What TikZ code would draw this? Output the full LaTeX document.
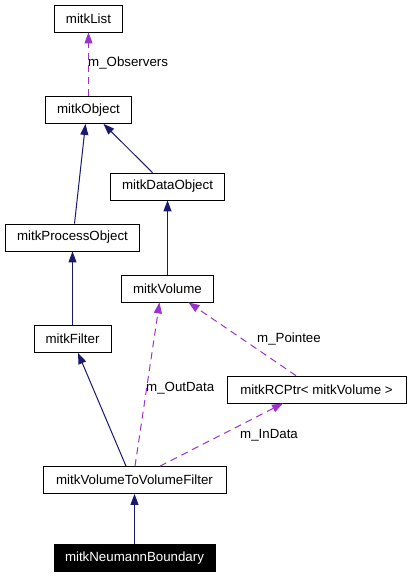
\documentclass[tikz,border=0pt]{standalone}
\usepackage{fontspec}
\setmainfont{Liberation Sans}
\usetikzlibrary{arrows.meta}

\definecolor{isablue}{HTML}{191970}
\definecolor{usespurple}{HTML}{9A32CD}

\tikzset{
	cls/.style={draw, line width=0.8pt, minimum height=27pt, inner sep=0pt, font=\fontsize{13.3}{15}\selectfont},
	isa/.style={draw=isablue, line width=1pt, -{Triangle[length=11pt,width=8pt]}, isablue},
	uses/.style={draw=usespurple, line width=1pt, dash pattern=on 7pt off 5pt, -{Triangle[length=11pt,width=8pt]}, usespurple},
	lbl/.style={font=\fontsize{13.3}{15}\selectfont, inner sep=0pt}
}

\begin{document}
\begin{tikzpicture}[x=1pt, y=-1pt]
	\useasboundingbox (0, 0) rectangle (411, 576);
	% classes
	\node[cls, minimum width=68pt] (list) at (88.5, 18.5) {mitkList};
	\node[cls, minimum width=86pt] (object) at (88.5, 110) {mitkObject};
	\node[cls, minimum width=114pt] (dataobj) at (167.5, 186.5) {mitkDataObject};
	\node[cls, minimum width=134pt] (procobj) at (72.5, 237.5) {mitkProcessObject};
	\node[cls, minimum width=92pt] (volume) at (167.5, 288.5) {mitkVolume};
	\node[cls, minimum width=77pt] (filter) at (72.5, 339) {mitkFilter};
	\node[cls, minimum width=179pt] (rcptr) at (316.5, 389.5) {mitkRCPtr< mitkVolume >};
	\node[cls, minimum width=183pt] (vtvf) at (134.5, 480) {mitkVolumeToVolumeFilter};
	\node[cls, minimum width=161pt, fill=black, text=white] (neumann) at (134.5, 558) {mitkNeumannBoundary};
	% inheritance
	\draw[isa] ([xshift=2pt]procobj.north) -- ([xshift=-3pt]object.south);
	\draw[isa] ([xshift=-15pt]dataobj.north) -- ([xshift=15pt]object.south);
	\draw[isa] (volume.north) -- (dataobj.south);
	\draw[isa] (filter.north) -- (procobj.south);
	\draw[isa] ([xshift=-8.5pt]vtvf.north) -- ([xshift=5.5pt]filter.south);
	\draw[isa] (neumann.north) -- (vtvf.south);
	% members
	\draw[uses] (object.north) -- (list.south);
	\draw[uses] ([xshift=0.5pt]vtvf.north) -- ([xshift=-8pt]volume.south);
	\draw[uses] ([xshift=-20.5pt]rcptr.north) -- ([xshift=21pt]volume.south);
	\draw[uses] ([xshift=25.5pt]vtvf.north) -- ([xshift=-33.5pt]rcptr.south);
	\node[lbl, anchor=west] (obs) at (88, 63) {m\_Observers};
	\node[lbl, anchor=west] (out) at (146, 388) {m\_OutData};
	\node[lbl, anchor=west] (ptr) at (257, 339) {m\_Pointee};
	\node[lbl, anchor=west] (ind) at (240, 435) {m\_InData};
\end{tikzpicture}
\end{document}
